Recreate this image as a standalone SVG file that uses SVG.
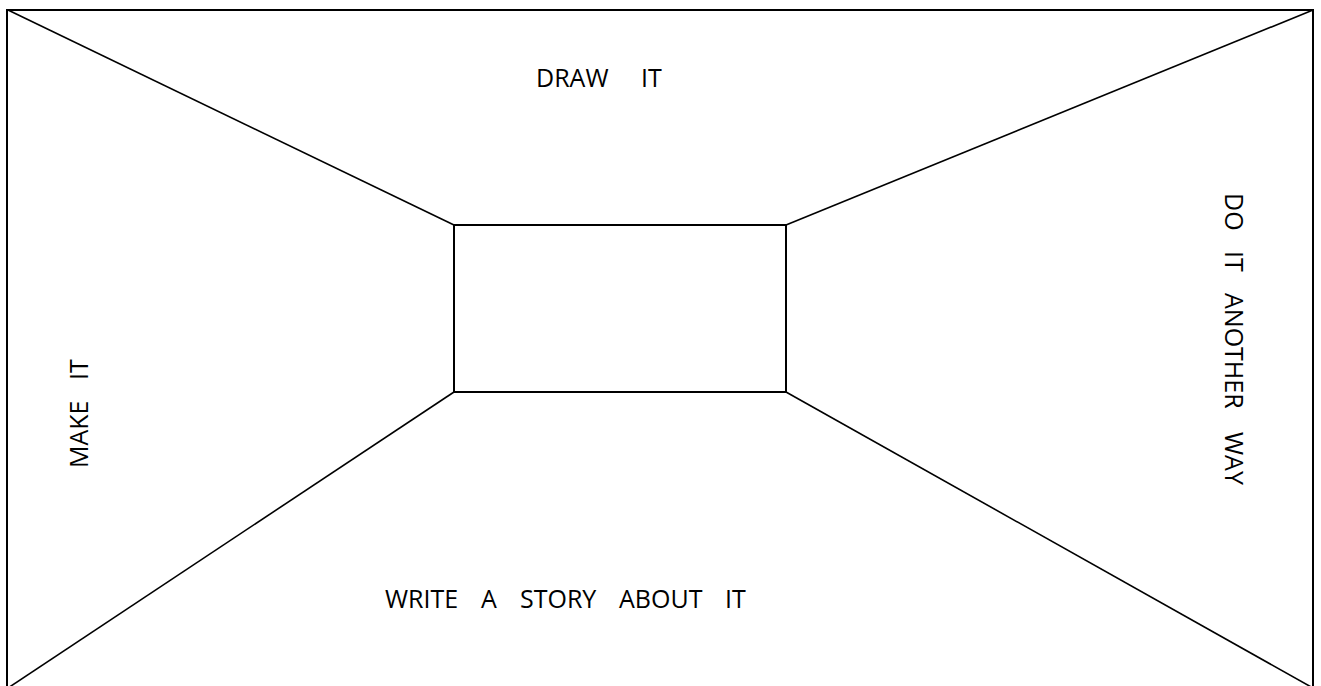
<svg xmlns="http://www.w3.org/2000/svg" width="1321" height="686" viewBox="0 0 1321 686">
<style>
.frame{fill:none;stroke:#000;stroke-width:2}
.ln{stroke:#000;stroke-width:1.6;fill:none}
.t{font-family:"Open Sans","Liberation Sans",sans-serif;font-size:25px;fill:#000}
</style>
<rect width="1321" height="686" fill="#fff"/>
<g id="connectors">
<line class="ln" x1="8" y1="10" x2="454" y2="225"/>
<line class="ln" x1="1313" y1="10" x2="786" y2="225"/>
<line class="ln" x1="8" y1="688" x2="454" y2="392"/>
<line class="ln" x1="1313" y1="688" x2="786" y2="392"/>
</g>
<g id="outer"><rect class="frame" x="7" y="10" width="1306" height="690"/></g>
<g id="inner"><rect class="frame" x="454" y="225" width="332" height="167"/></g>
<g id="top-label"><text class="t" y="87"><tspan x="536">DRAW</tspan><tspan x="641">IT</tspan></text></g>
<g id="bottom-label"><text class="t" y="608"><tspan x="385">WRITE</tspan><tspan x="481">A</tspan><tspan x="520">STORY</tspan><tspan x="619">ABOUT</tspan><tspan x="725">IT</tspan></text></g>
<g id="left-label"><text class="t" transform="translate(88,468) rotate(-90)"><tspan x="0">MAKE</tspan><tspan x="88">IT</tspan></text></g>
<g id="right-label"><text class="t" transform="translate(1225,193) rotate(90)"><tspan x="0">DO</tspan><tspan x="58">IT</tspan><tspan x="100">ANOTHER</tspan><tspan x="239">WAY</tspan></text></g>
</svg>
